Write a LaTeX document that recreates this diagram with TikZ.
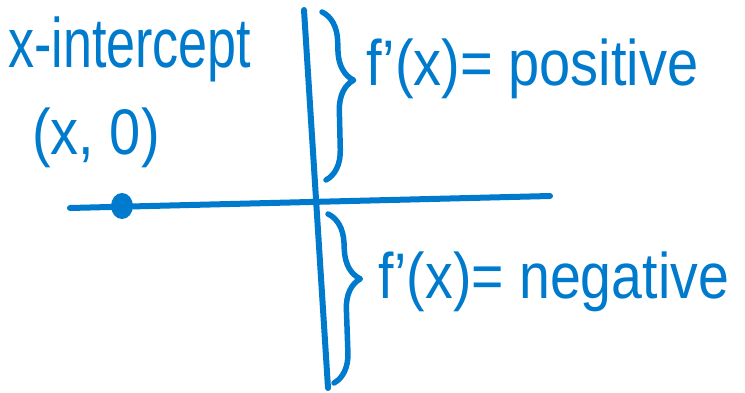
\documentclass[tikz,border=0pt]{standalone}
\usepackage{fontspec}
\setmainfont{Liberation Sans}
\usetikzlibrary{decorations.pathreplacing}
\definecolor{hand}{RGB}{0,122,204}
\tikzset{
  stroke/.style={draw=hand, line width=6pt, line cap=round, line join=round},
  label/.style={text=hand, inner sep=0pt, font=\fontsize{56}{60}\selectfont},
  bracestroke/.style={stroke, decorate, decoration={brace, amplitude=30pt, aspect=#1}}
}
\begin{document}
\begin{tikzpicture}[x=1pt,y=-1pt]
\useasboundingbox (0,0) rectangle (745,393);
% axes
\coordinate (hl) at (70,208);
\coordinate (hr) at (550,196);
\coordinate (vt) at (304,10);
\coordinate (vb) at (328,388);
\draw[stroke] (hl) -- (hr);
\draw[stroke] (vt) -- (vb);
% x-intercept point
\fill[hand] (122,206) ellipse [x radius=11pt, y radius=13pt];
% braces
\coordinate (b1t) at (322,12);
\coordinate (b1b) at (326,180);
\coordinate (b2t) at (328,214);
\coordinate (b2b) at (334,383);
\draw[bracestroke=0.41, line width=5.5pt] (b1t) -- (b1b);
\draw[bracestroke=0.39, line width=5.5pt] (b2t) -- (b2b);
% labels
\node[label, anchor=base west, xscale=0.93, yscale=1.25] (xint) at (8,68) {x-intercept};
\node[label, anchor=base west, xscale=1.0, yscale=1.15] (pair) at (32,155) {(x, 0)};
\node[label, anchor=base west, xscale=1.0, yscale=1.15] (pos) at (366,86) {f'(x)= positive};
\node[label, anchor=base west, xscale=0.99, yscale=1.15] (neg) at (378,298) {f'(x)= negative};
\end{tikzpicture}
\end{document}
